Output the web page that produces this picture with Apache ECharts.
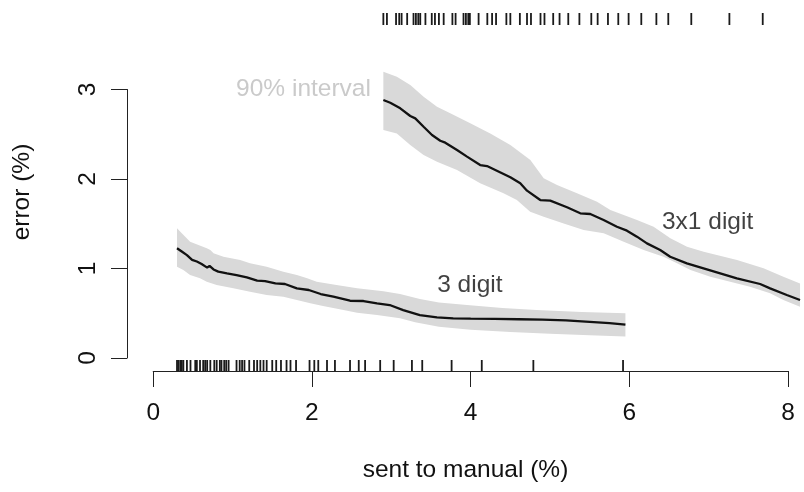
<!DOCTYPE html>
<html>
<head>
<meta charset="utf-8">
<script src="https://cdn.jsdelivr.net/npm/echarts@6/dist/echarts.min.js"></script>
<style>html,body{margin:0;padding:0;background:#fff}#c{width:804px;height:492px}</style>
</head>
<body>
<div id="c"></div>
<script>
// ---- data ----
const xTicks = [0, 2, 4, 6, 8];
const yTicks = [0, 1, 2, 3];

const threeDigitLine = [[0.30,1.226],[0.36,1.19],[0.425,1.15],[0.49,1.097],[0.55,1.078],[0.61,1.05],[0.68,1.01],[0.71,1.03],[0.76,0.99],[0.82,0.965],[0.93,0.946],[1.05,0.927],[1.18,0.90],[1.31,0.864],[1.41,0.86],[1.54,0.834],[1.66,0.827],[1.81,0.778],[1.96,0.76],[2.11,0.715],[2.27,0.685],[2.48,0.64],[2.65,0.637],[2.82,0.611],[2.98,0.592],[3.15,0.536],[3.36,0.48],[3.575,0.455],[3.78,0.444],[4.0,0.44],[4.3,0.437],[4.6,0.433],[4.9,0.428],[5.2,0.42],[5.5,0.405],[5.75,0.39],[5.95,0.372]];
const threeDigitUpper = [[0.30,1.449],[0.36,1.393],[0.465,1.30],[0.57,1.263],[0.675,1.226],[0.72,1.207],[0.76,1.17],[0.885,1.132],[1.096,1.095],[1.22,1.058],[1.43,1.02],[1.64,0.964],[1.81,0.927],[1.94,0.89],[2.06,0.853],[2.31,0.816],[2.57,0.779],[2.90,0.745],[3.11,0.715],[3.36,0.66],[3.6,0.62],[3.99,0.59],[4.4,0.56],[4.83,0.536],[5.4,0.515],[5.95,0.50]];
const threeDigitLower = [[0.30,1.02],[0.38,0.983],[0.465,0.927],[0.59,0.89],[0.675,0.853],[0.80,0.816],[1.01,0.779],[1.22,0.741],[1.43,0.704],[1.64,0.685],[1.81,0.648],[1.98,0.611],[2.14,0.581],[2.35,0.544],[2.57,0.506],[2.82,0.48],[3.11,0.444],[3.3,0.40],[3.6,0.35],[4.0,0.315],[4.5,0.29],[5.0,0.27],[5.5,0.255],[5.95,0.24]];

const threeByOneLine = [[2.90,2.883],[2.987,2.852],[3.113,2.79],[3.239,2.704],[3.302,2.678],[3.407,2.584],[3.513,2.492],[3.617,2.428],[3.68,2.406],[3.828,2.324],[3.954,2.25],[4.12,2.156],[4.206,2.145],[4.33,2.093],[4.5,2.019],[4.625,1.952],[4.71,1.87],[4.877,1.765],[5.003,1.758],[5.214,1.684],[5.381,1.617],[5.507,1.609],[5.675,1.542],[5.843,1.467],[5.969,1.423],[6.095,1.356],[6.221,1.281],[6.388,1.207],[6.514,1.132],[6.724,1.058],[6.934,1.002],[7.144,0.946],[7.354,0.890],[7.647,0.827],[7.773,0.778],[7.983,0.704],[8.15,0.648]];
const threeByOneUpper = [[2.90,3.199],[3.07,3.143],[3.239,3.05],[3.407,2.92],[3.576,2.808],[3.743,2.734],[3.995,2.622],[4.247,2.51],[4.5,2.38],[4.752,2.212],[4.92,2.008],[5.088,1.933],[5.34,1.84],[5.592,1.746],[5.76,1.654],[6.096,1.542],[6.305,1.467],[6.516,1.337],[6.726,1.244],[6.936,1.188],[7.356,1.095],[7.69,1.002],[7.94,0.908],[8.15,0.834]];
const threeByOneLower = [[2.90,2.547],[3.07,2.51],[3.239,2.38],[3.407,2.268],[3.576,2.193],[3.828,2.10],[4.12,1.952],[4.414,1.84],[4.582,1.765],[4.75,1.634],[4.92,1.578],[5.172,1.504],[5.424,1.43],[5.676,1.393],[5.928,1.30],[6.18,1.207],[6.43,1.132],[6.6,1.058],[6.77,0.983],[7.02,0.908],[7.27,0.852],[7.52,0.797],[7.773,0.723],[7.94,0.648],[8.15,0.573]];

const rugBottom = [0.30,0.315,0.34,0.36,0.38,0.425,0.47,0.53,0.55,0.59,0.63,0.655,0.68,0.72,0.77,0.80,0.84,0.86,0.895,0.92,0.95,1.05,1.09,1.12,1.15,1.21,1.27,1.31,1.35,1.39,1.43,1.50,1.55,1.61,1.68,1.73,1.80,1.97,2.03,2.08,2.19,2.29,2.48,2.59,2.67,2.86,3.03,3.26,3.39,3.76,4.14,4.79,5.92];
const rugTop = [2.90,2.945,3.06,3.10,3.13,3.20,3.28,3.31,3.34,3.365,3.43,3.51,3.55,3.60,3.66,3.77,3.81,3.91,3.94,3.97,3.99,4.10,4.21,4.27,4.32,4.45,4.50,4.62,4.71,4.76,4.88,4.93,5.04,5.12,5.23,5.37,5.52,5.60,5.73,5.86,5.99,6.15,6.34,6.49,6.78,7.26,7.68];

const annotText = ['90% interval', '3 digit', '3x1 digit'];
const annotX = [1.894, 3.99, 6.985];
const annotY = [3.0, 0.816, 1.514];

const xLabel = 'sent to manual (%)';
const yLabel = 'error (%)';

// ---- chart ----
const X_MIN = -0.33, X_MAX = 8.2, Y_MIN = -0.145, Y_MAX = 3.855;
const FONT = '"Liberation Sans", Arial, Helvetica, sans-serif';
const AX = '#222';
const chart = echarts.init(document.getElementById('c'), null, {renderer: 'canvas'});

function band(upper, lower) {
  return {
    type: 'custom', xAxisIndex: 0, yAxisIndex: 0, silent: true, z: 1,
    data: [[upper[0][0], upper[0][1]]],
    renderItem: function (params, api) {
      const pts = upper.map(p => api.coord(p)).concat(lower.slice().reverse().map(p => api.coord(p)));
      return {type: 'polygon', shape: {points: pts}, style: {fill: '#d9d9d9', stroke: null}};
    }
  };
}
function rug(xs, atTop) {
  return {
    type: 'custom', xAxisIndex: 0, yAxisIndex: 0, silent: true, z: 3,
    data: xs.map(x => [x, atTop ? Y_MAX : Y_MIN]),
    renderItem: function (params, api) {
      const p = api.coord([api.value(0), api.value(1)]);
      const len = atTop ? 12 : -11;
      return {type: 'line', shape: {x1: p[0], y1: p[1], x2: p[0], y2: p[1] + len},
        style: {stroke: '#1a1a1a', lineWidth: 1.8}};
    }
  };
}
function curve(data) {
  return {type: 'line', xAxisIndex: 0, yAxisIndex: 0, data: data, showSymbol: false, symbol: 'none',
    z: 4, silent: true, lineStyle: {color: '#111', width: 2.3}};
}

const hidden = {axisLine: {show: false}, axisTick: {show: false}, axisLabel: {show: false}, splitLine: {show: false}};

chart.setOption({
  animation: false,
  backgroundColor: '#fff',
  textStyle: {fontFamily: FONT},
  grid: [
    {left: 127, top: 13, width: 677, height: 358},
    {left: 153.2, top: 13, width: 634.9, height: 358},
    {left: 127, top: 89.5, width: 677, height: 268.5}
  ],
  xAxis: [
    Object.assign({gridIndex: 0, type: 'value', min: X_MIN, max: X_MAX, name: xLabel, nameLocation: 'middle', nameGap: 87,
      nameTextStyle: {fontSize: 24.5, color: '#111', fontFamily: FONT}}, hidden),
    {gridIndex: 1, type: 'value', min: xTicks[0], max: xTicks[xTicks.length - 1], interval: xTicks[1] - xTicks[0],
      axisLine: {show: true, lineStyle: {color: AX, width: 1}},
      axisTick: {show: true, length: 16, lineStyle: {color: AX, width: 1}},
      axisLabel: {show: true, margin: 30, fontSize: 24.5, lineHeight: 24, color: '#111', fontFamily: FONT},
      splitLine: {show: false}},
    Object.assign({gridIndex: 2, type: 'value', min: 0, max: 1}, hidden)
  ],
  yAxis: [
    Object.assign({gridIndex: 0, type: 'value', min: Y_MIN, max: Y_MAX, name: yLabel, nameLocation: 'middle', nameGap: 92,
      nameRotate: 90, nameTextStyle: {fontSize: 24.5, color: '#111', fontFamily: FONT}}, hidden),
    Object.assign({gridIndex: 1, type: 'value', min: 0, max: 1}, hidden),
    {gridIndex: 2, type: 'value', min: yTicks[0], max: yTicks[yTicks.length - 1], interval: yTicks[1] - yTicks[0],
      axisLine: {show: true, lineStyle: {color: AX, width: 1}},
      axisTick: {show: true, length: 16, lineStyle: {color: AX, width: 1}},
      axisLabel: {show: true, rotate: 90, margin: 27, fontSize: 24.5, lineHeight: 24, color: '#111', fontFamily: FONT},
      splitLine: {show: false}}
  ],
  series: [
    band(threeDigitUpper, threeDigitLower),
    band(threeByOneUpper, threeByOneLower),
    curve(threeDigitLine),
    curve(threeByOneLine),
    rug(rugBottom, false),
    rug(rugTop, true),
    {
      type: 'scatter', xAxisIndex: 0, yAxisIndex: 0, silent: true, z: 5,
      symbolSize: 1, itemStyle: {color: 'rgba(0,0,0,0)'},
      data: annotText.map((t, i) => ({value: [annotX[i], annotY[i]], name: t,
        label: {color: i === 0 ? '#bdbdbd' : '#111'}})),
      label: {show: true, position: 'inside', formatter: p => p.name, fontSize: 24.5, fontFamily: FONT}
    }
  ]
});
</script>
</body>
</html>
